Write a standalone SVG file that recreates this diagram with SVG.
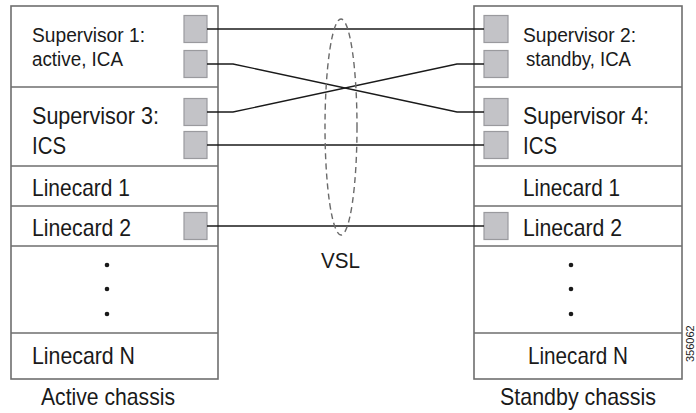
<svg xmlns="http://www.w3.org/2000/svg" width="696" height="413" viewBox="0 0 696 413">
<style>
.frame{fill:#fff;stroke:#6e6e6e;stroke-width:1.6}
.div{stroke:#6e6e6e;stroke-width:1.6}
.port{fill:#c3c3c7;stroke:#9a9a9e;stroke-width:1.2}
.wire{fill:none;stroke:#1a1a1a;stroke-width:1.3}
.t{font-family:"Liberation Sans",Arial,sans-serif;fill:#1a1a1a}
.s{font-size:19.5px}
.m{font-size:24px}
.dot{fill:#1a1a1a}
</style>
<rect width="696" height="413" fill="#fff"/>
<g id="active-chassis">
<rect class="frame" x="11" y="6" width="207" height="373"/>
<line class="div" x1="11" y1="87" x2="218" y2="87"/>
<line class="div" x1="11" y1="166" x2="218" y2="166"/>
<line class="div" x1="11" y1="206" x2="218" y2="206"/>
<line class="div" x1="11" y1="246" x2="218" y2="246"/>
<line class="div" x1="11" y1="333" x2="218" y2="333"/>
<text class="t s" x="32" y="42" textLength="113" lengthAdjust="spacingAndGlyphs">Supervisor 1:</text>
<text class="t s" x="32" y="66" textLength="91" lengthAdjust="spacingAndGlyphs">active, ICA</text>
<text class="t m" x="32" y="124" textLength="127" lengthAdjust="spacingAndGlyphs">Supervisor 3:</text>
<text class="t m" x="32" y="154" textLength="34" lengthAdjust="spacingAndGlyphs">ICS</text>
<text class="t m" x="32" y="196" textLength="98" lengthAdjust="spacingAndGlyphs">Linecard 1</text>
<text class="t m" x="32" y="236" textLength="99" lengthAdjust="spacingAndGlyphs">Linecard 2</text>
<circle class="dot" cx="107" cy="265" r="2.3"/>
<circle class="dot" cx="107" cy="289" r="2.3"/>
<circle class="dot" cx="107" cy="314" r="2.3"/>
<text class="t m" x="32" y="364" textLength="103" lengthAdjust="spacingAndGlyphs">Linecard N</text>
<rect class="port" x="184" y="15.5" width="23" height="27"/>
<rect class="port" x="184" y="50.5" width="23" height="27"/>
<rect class="port" x="184" y="98.5" width="23" height="27"/>
<rect class="port" x="184" y="131.5" width="23" height="27"/>
<rect class="port" x="184" y="212.5" width="23" height="27"/>
<text class="t m" x="41" y="405" textLength="134" lengthAdjust="spacingAndGlyphs">Active chassis</text>
</g>
<g id="standby-chassis">
<rect class="frame" x="474" y="6" width="208" height="373"/>
<line class="div" x1="474" y1="87" x2="682" y2="87"/>
<line class="div" x1="474" y1="166" x2="682" y2="166"/>
<line class="div" x1="474" y1="206" x2="682" y2="206"/>
<line class="div" x1="474" y1="246" x2="682" y2="246"/>
<line class="div" x1="474" y1="333" x2="682" y2="333"/>
<text class="t s" x="523" y="42" textLength="113" lengthAdjust="spacingAndGlyphs">Supervisor 2:</text>
<text class="t s" x="526" y="66" textLength="105" lengthAdjust="spacingAndGlyphs">standby, ICA</text>
<text class="t m" x="523" y="124" textLength="126" lengthAdjust="spacingAndGlyphs">Supervisor 4:</text>
<text class="t m" x="523" y="154" textLength="34" lengthAdjust="spacingAndGlyphs">ICS</text>
<text class="t m" x="523" y="196" textLength="97" lengthAdjust="spacingAndGlyphs">Linecard 1</text>
<text class="t m" x="523" y="236" textLength="99" lengthAdjust="spacingAndGlyphs">Linecard 2</text>
<circle class="dot" cx="571" cy="265" r="2.3"/>
<circle class="dot" cx="571" cy="289" r="2.3"/>
<circle class="dot" cx="571" cy="314" r="2.3"/>
<text class="t m" x="528" y="364" textLength="100" lengthAdjust="spacingAndGlyphs">Linecard N</text>
<rect class="port" x="484" y="15.5" width="24" height="27"/>
<rect class="port" x="484" y="50.5" width="24" height="27"/>
<rect class="port" x="484" y="98.5" width="24" height="27"/>
<rect class="port" x="484" y="131.5" width="24" height="27"/>
<rect class="port" x="484" y="212.5" width="24" height="27"/>
<text class="t m" x="500" y="405" textLength="156" lengthAdjust="spacingAndGlyphs">Standby chassis</text>
</g>
<g id="connectors">
<line class="wire" x1="207" y1="29" x2="484" y2="29"/>
<polyline class="wire" points="207,64 233,64 457,112 484,112"/>
<polyline class="wire" points="207,112 233,112 457,64 484,64"/>
<line class="wire" x1="207" y1="145" x2="484" y2="145"/>
<line class="wire" x1="207" y1="226" x2="484" y2="226"/>
</g>
<g id="vsl">
<ellipse cx="341" cy="127" rx="16" ry="108" fill="none" stroke="#6a6a6a" stroke-width="1.4" stroke-dasharray="6,4"/>
<text class="t" x="321" y="268" font-size="22" textLength="39" lengthAdjust="spacingAndGlyphs">VSL</text>
</g>
<text class="t" transform="translate(694,362) rotate(-90)" font-size="11" fill="#333">356062</text>
</svg>
